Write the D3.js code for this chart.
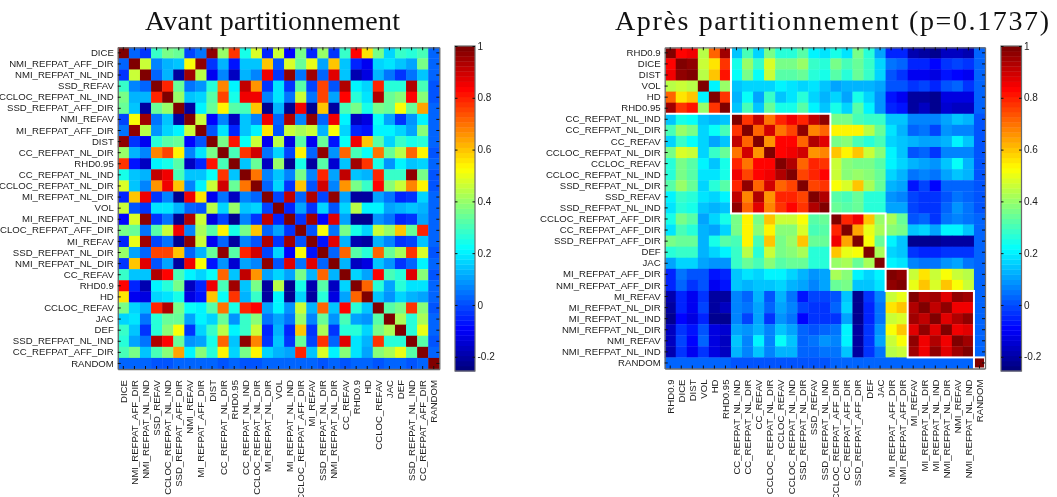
<!DOCTYPE html>
<html><head><meta charset="utf-8">
<script src="https://cdn.jsdelivr.net/npm/d3@7"></script>
<style>html,body{margin:0;padding:0;background:#fff;overflow:hidden}svg{display:block;filter:blur(0.3px)}</style>
</head><body><svg id="c" width="1057" height="497"></svg>
<script>
const titleBefore = "Avant partitionnement";
const titleAfter = "Après partitionnement (p=0.1737)";
const orderBefore = ["DICE","NMI_REFPAT_AFF_DIR","NMI_REFPAT_NL_IND","SSD_REFAV","CCLOC_REFPAT_NL_IND","SSD_REFPAT_AFF_DIR","NMI_REFAV","MI_REFPAT_AFF_DIR","DIST","CC_REFPAT_NL_DIR","RHD0.95","CC_REFPAT_NL_IND","CCLOC_REFPAT_NL_DIR","MI_REFPAT_NL_DIR","VOL","MI_REFPAT_NL_IND","CCLOC_REFPAT_AFF_DIR","MI_REFAV","SSD_REFPAT_NL_DIR","NMI_REFPAT_NL_DIR","CC_REFAV","RHD0.9","HD","CCLOC_REFAV","JAC","DEF","SSD_REFPAT_NL_IND","CC_REFPAT_AFF_DIR","RANDOM"];
const orderAfter = ["RHD0.9","DICE","DIST","VOL","HD","RHD0.95","CC_REFPAT_NL_IND","CC_REFPAT_NL_DIR","CC_REFAV","CCLOC_REFPAT_NL_DIR","CCLOC_REFAV","CCLOC_REFPAT_NL_IND","SSD_REFPAT_NL_DIR","SSD_REFAV","SSD_REFPAT_NL_IND","CCLOC_REFPAT_AFF_DIR","CC_REFPAT_AFF_DIR","SSD_REFPAT_AFF_DIR","DEF","JAC","MI_REFPAT_AFF_DIR","NMI_REFPAT_AFF_DIR","MI_REFAV","MI_REFPAT_NL_DIR","MI_REFPAT_NL_IND","NMI_REFPAT_NL_DIR","NMI_REFAV","NMI_REFPAT_NL_IND","RANDOM"];
// first and last member index of each partition (in orderAfter)
const partitions = [[0,5],[6,14],[15,19],[20,21],[22,27],[28,28]];
// upper triangle of the correlation matrix, in orderAfter order
const upperRows = [
[1,.83,.85,.44,.72,.95,.15,.3,.16,.36,.27,.27,.33,.2,.18,.25,.18,.36,.27,.1,-.05,-.04,-.19,-.2,-.22,-.17,-.17,-.18,.02],
[1,.97,.47,.56,.78,.24,.4,.28,.48,.36,.36,.4,.28,.26,.36,.3,.34,.29,.16,.04,.03,-.05,-.05,-.08,-.02,-.01,-.03,.02],
[1,.45,.6,.82,.23,.36,.22,.47,.33,.33,.35,.26,.25,.33,.27,.34,.28,.16,0,-.02,-.1,-.1,-.13,-.06,-.08,-.1,.02],
[1,.21,.4,.15,.17,.17,.17,.21,.19,.17,.19,.15,.1,.12,.12,.12,.1,0,0,-.03,-.01,-.04,0,.03,-.02,.03],
[1,.78,.13,.22,.1,.28,.15,.18,.27,.16,.13,.16,.1,.24,.16,.08,-.07,-.1,-.2,-.2,-.22,-.13,-.12,-.13,.02],
[1,.15,.3,.14,.35,.25,.25,.33,.2,.15,.24,.16,.32,.21,.09,-.05,-.07,-.21,-.17,-.22,-.14,-.16,-.16,.02],
[1,.78,.92,.7,.8,.86,.79,.92,.97,.36,.37,.31,.29,.29,.14,.14,.07,.07,.06,.11,.14,.13,0],
[1,.72,.89,.7,.75,.97,.68,.72,.53,.53,.53,.45,.34,.18,.13,.03,.04,-.01,.09,.07,.07,0],
[1,.65,.83,.83,.72,.93,.88,.37,.39,.31,.27,.31,.17,.15,.13,.1,.1,.13,.2,.15,0],
[1,.83,.86,.9,.66,.68,.6,.54,.6,.47,.39,.2,.14,.01,.03,-.02,.07,.07,.06,0],
[1,.93,.72,.8,.78,.47,.39,.36,.36,.32,.2,.17,.12,.1,.09,.14,.22,.13,0],
[1,.76,.8,.84,.47,.39,.41,.38,.34,.17,.12,.05,.06,.04,.11,.14,.13,0],
[1,.76,.78,.52,.49,.59,.43,.34,.13,.1,-.06,-.01,-.08,.03,.02,.02,0],
[1,.93,.32,.3,.35,.26,.27,.09,.07,-.01,-.03,-.03,0,.05,.03,0],
[1,.35,.33,.34,.27,.26,.1,.1,-.01,-.02,-.03,.02,.08,.05,0],
[1,.8,.85,.6,.41,.42,.34,.01,.03,-.02,.05,.07,.05,.02],
[1,.64,.5,.42,.38,.36,.14,.16,.1,.21,.2,.15,.03],
[1,.52,.35,.2,.15,-.23,-.22,-.23,-.2,-.21,-.21,.02],
[1,.42,.16,.14,-.02,-.04,-.05,-.02,-.03,-.03,.02],
[1,.2,.19,.07,.05,.04,.08,.1,.04,.02],
[1,.97,.46,.55,.47,.52,.46,.44,.02],
[1,.5,.6,.49,.6,.52,.47,.03],
[1,.93,.96,.87,.98,.96,.02],
[1,.92,.98,.85,.86,.03],
[1,.88,.94,.97,.02],
[1,.85,.87,.03],
[1,.96,.03],
[1,.03],
[1]
];
const colorTicks = [-0.2,0,0.2,0.4,0.6,0.8,1];
const colorDomain = [-0.255,1];
const jetStops = ["#000080","#0000ff","#0080ff","#00ffff","#80ff80","#ffff00","#ff8000","#ff0000","#800000"];

const value = (a,b)=>{
  let i=orderAfter.indexOf(a), j=orderAfter.indexOf(b);
  if(i>j)[i,j]=[j,i];
  return upperRows[i][j-i];
};
const jet = d3.scaleLinear().domain(d3.range(9).map(i=>i/8)).range(jetStops).interpolate(d3.interpolateRgb);
const levels = d3.range(64).map(i=>jet(i/63));
const color = d3.scaleQuantize().domain(colorDomain).range(levels);

const svg = d3.select("#c");
const FRAME="#6b6b6b", TICK="#111", TEXT="#222";
const FONT="'Liberation Sans',Arial,sans-serif";

function panel(order,x0,x1,y0,y1,boxes){
  const x=d3.scaleBand().domain(order).range([x0,x1]);
  const y=d3.scaleBand().domain(order).range([y0,y1]);
  const g=svg.append("g");
  const cells=order.flatMap(a=>order.map(b=>({a,b,v:value(a,b)})));
  g.selectAll("rect.cell").data(cells).join("rect").attr("class","cell")
    .attr("x",d=>x(d.b)).attr("y",d=>y(d.a))
    .attr("width",x.bandwidth()+.4).attr("height",y.bandwidth()+.4)
    .attr("fill",d=>color(d.v));
  if(boxes){
    g.selectAll("rect.box").data(boxes).join("rect").attr("class","box")
      .attr("x",d=>x(order[d[0]])).attr("y",d=>y(order[d[0]]))
      .attr("width",d=>x(order[d[1]])+x.bandwidth()-x(order[d[0]]))
      .attr("height",d=>y(order[d[1]])+y.bandwidth()-y(order[d[0]]))
      .attr("fill","none").attr("stroke","#fff").attr("stroke-width",2);
  }
  const style=(a)=>{
    a.select(".domain").attr("stroke",FRAME).attr("stroke-width",1.3);
    a.selectAll(".tick line").attr("stroke",TICK).attr("stroke-width",1);
    a.selectAll("text").attr("fill",TEXT).style("font-family",FONT).style("font-size","9.6px");
  };
  const L=g.append("g").attr("transform",`translate(${x0},0)`).call(d3.axisLeft(y).tickSize(-3).tickSizeOuter(0).tickPadding(4)); style(L);
  const R=g.append("g").attr("transform",`translate(${x1},0)`).call(d3.axisRight(y).tickSize(-3).tickSizeOuter(0).tickFormat("")); style(R);
  const T=g.append("g").attr("transform",`translate(0,${y0})`).call(d3.axisTop(x).tickSize(-3).tickSizeOuter(0).tickFormat("")); style(T);
  const B=g.append("g").attr("transform",`translate(0,${y1})`).call(d3.axisBottom(x).tickSize(-3).tickSizeOuter(0).tickFormat(d=>d)); style(B);
  B.selectAll("text").attr("text-anchor","end")
    .attr("x",0).attr("y",0).attr("dy",0)
    .attr("transform","translate(3.5,11) rotate(-90)");
}

function colorbar(x0,x1,y0,y1){
  const y=d3.scaleLinear().domain(colorDomain).range([y1,y0]);
  const g=svg.append("g");
  const h=(y1-y0)/levels.length;
  g.selectAll("rect").data(levels).join("rect")
    .attr("x",x0).attr("width",x1-x0)
    .attr("y",(d,i)=>y1-(i+1)*h).attr("height",h+.4).attr("fill",d=>d);
  g.append("rect").attr("x",x0).attr("y",y0).attr("width",x1-x0).attr("height",y1-y0)
    .attr("fill","none").attr("stroke",FRAME).attr("stroke-width",1.2);
  const A=g.append("g").attr("transform",`translate(${x1},0)`).call(d3.axisRight(y).tickValues(colorTicks).tickSize(-2.5).tickSizeOuter(0).tickPadding(2.5).tickFormat(d=>String(d)));
  A.select(".domain").remove();
  A.selectAll("line").attr("stroke",TICK);
  A.selectAll("text").attr("fill",TEXT).style("font-family",FONT).style("font-size","10px");
  const B=g.append("g").attr("transform",`translate(${x0},0)`).call(d3.axisLeft(y).tickValues(colorTicks).tickSize(-2.5).tickSizeOuter(0).tickFormat(""));
  B.select(".domain").remove();
  B.selectAll("line").attr("stroke",TICK);
}

function title(t,x,len){
  svg.append("text").text(t).attr("x",x).attr("y",29.5)
    .attr("textLength",len).attr("lengthAdjust","spacing")
    .style("font-family","'Liberation Serif',serif").style("font-size","28px").attr("fill","#111");
}

panel(orderBefore,117.8,439.3,47.3,369,null);
panel(orderAfter,664.7,985,47.3,368.5,partitions);
colorbar(455,475,46,371);
colorbar(1001,1021.5,46,371);
title(titleBefore,145,255);
title(titleAfter,615,434);
</script></body></html>
